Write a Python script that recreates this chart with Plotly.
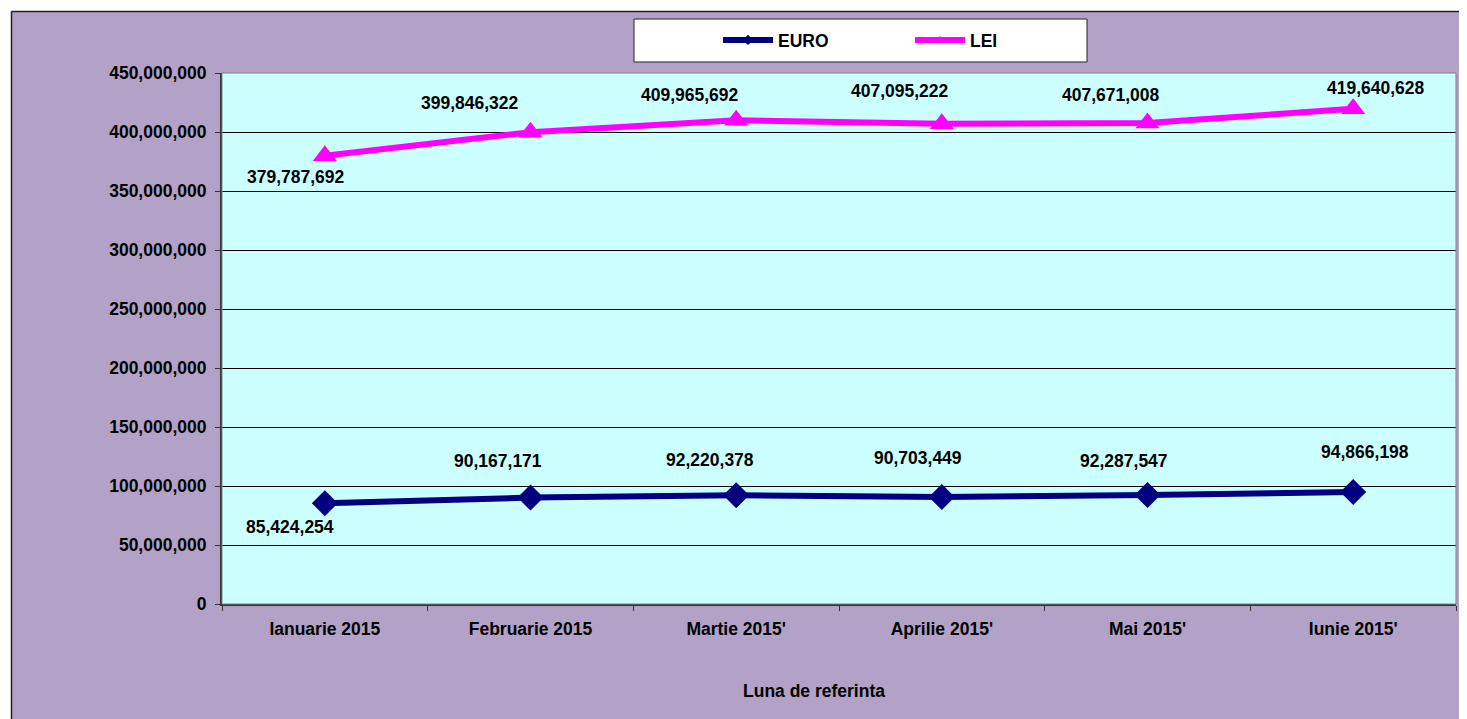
import plotly.graph_objects as go

months = ["Ianuarie 2015", "Februarie 2015", "Martie 2015'", "Aprilie 2015'", "Mai 2015'", "Iunie 2015'"]
euro = [85424254, 90167171, 92220378, 90703449, 92287547, 94866198]
lei = [379787692, 399846322, 409965692, 407095222, 407671008, 419640628]

# label offsets in pixels (dx, dy)
euro_off = [(-35, -24), (-33, 37), (-26, 35), (-24, 39), (-24, 34), (12, 40)]
lei_off = [(-29, -21), (-61, 29), (-46, 25), (-42, 33), (-37, 28), (23, 21)]

# page geometry (page has 8px body margin)
OFF = 8
PL, PT, PR, PB = 222, 73, 1456, 604   # plot area in page coords
W, H = 1467 - OFF, 719 - OFF
L, T = PL - OFF, PT - OFF
R = W - (PR - OFF)
B = H - (PB - OFF)
PW, PH = PR - PL, PB - PT

def px(x):
    return (x - PL) / PW

def py(y):
    return (PB - y) / PH

FONT = "Liberation Sans, Arial, sans-serif"
FS = 17.5
PURPLE = "#B3A2C7"
NAVY = "#000080"
MAGENTA = "#FF00FF"

fig = go.Figure()
fig.add_trace(go.Scatter(x=months, y=euro, name="EURO", mode="lines+markers", showlegend=False,
                         line=dict(color=NAVY, width=6),
                         marker=dict(symbol="diamond", size=20, color=NAVY)))
fig.add_trace(go.Scatter(x=months, y=lei, name="LEI", mode="lines+markers", showlegend=False,
                         line=dict(color=MAGENTA, width=6),
                         marker=dict(symbol="triangle-up", size=21, color=MAGENTA)))
# legend entries (small markers, as in the original legend)
fig.add_trace(go.Scatter(x=[None], y=[None], name="<b>EURO</b>", mode="lines+markers",
                         line=dict(color=NAVY, width=6),
                         marker=dict(symbol="diamond", size=8, color=NAVY)))
fig.add_trace(go.Scatter(x=[None], y=[None], name="<b>LEI</b>", mode="lines+markers",
                         line=dict(color=MAGENTA, width=6),
                         marker=dict(symbol="triangle-up", size=8, color=MAGENTA)))

ann = []
for vals, offs in ((euro, euro_off), (lei, lei_off)):
    for m, v, (dx, dy) in zip(months, vals, offs):
        ann.append(dict(x=m, y=v, text=f"<b>{v:,}</b>", showarrow=False, xshift=dx, yshift=dy,
                        font=dict(family=FONT, size=FS, color="black")))
ann.append(dict(x=px(814), y=py(691), xref="paper", yref="paper", text="<b>Luna de referinta</b>",
                xanchor="center", yanchor="middle",
                showarrow=False, font=dict(family=FONT, size=FS, color="black")))

shapes = [
    # white outer margins
    dict(type="rect", xref="paper", yref="paper", x0=px(0), x1=px(11), y0=py(730), y1=py(0),
         fillcolor="white", line=dict(width=0), layer="above"),
    dict(type="rect", xref="paper", yref="paper", x0=px(0), x1=px(1480), y0=py(11), y1=py(0),
         fillcolor="white", line=dict(width=0), layer="above"),
    dict(type="line", xref="paper", yref="paper", x0=px(11.5), x1=px(11.5), y0=py(11.5), y1=py(730),
         line=dict(color="#222222", width=1.5)),
    dict(type="line", xref="paper", yref="paper", x0=px(11.5), x1=px(1480), y0=py(11.5), y1=py(11.5),
         line=dict(color="#222222", width=1.5)),
    # legend box
    dict(type="rect", xref="paper", yref="paper", x0=px(634), x1=px(1087), y0=py(62), y1=py(19),
         fillcolor="white", line=dict(color="#222222", width=1)),
    # plot border
    dict(type="rect", xref="paper", yref="paper", x0=0, x1=1, y0=0, y1=1,
         line=dict(color="#808080", width=1)),
]

fig.update_layout(
    width=W, height=H,
    margin=dict(l=L, r=R, t=T, b=B),
    paper_bgcolor=PURPLE, plot_bgcolor="#CCFFFF",
    font=dict(family=FONT, size=FS, color="black"),
    showlegend=True,
    legend=dict(orientation="h", x=px(718), y=py(40), xanchor="left", yanchor="middle",
                bgcolor="rgba(0,0,0,0)", entrywidth=127, entrywidthmode="pixels",
                itemwidth=50, font=dict(family=FONT, size=FS, color="black"),
                traceorder="normal"),
    annotations=ann,
    shapes=shapes,
    xaxis=dict(type="category", showgrid=False, showline=True, linecolor="#333333", linewidth=2,
               ticks="outside", tickson="boundaries", ticklen=5, tickcolor="#333333",
               tickfont=dict(family=FONT, size=FS), range=[-0.5, 5.5],
               ticklabelstandoff=8, tickprefix="<b>", ticksuffix="</b>"),
    yaxis=dict(range=[0, 450000000], dtick=50000000, tickformat=",d", showgrid=True,
               gridcolor="#000000", gridwidth=1, showline=True, linecolor="#333333", linewidth=2,
               ticks="outside", ticklen=5, tickcolor="#333333", zeroline=False,
               ticklabelstandoff=5,
               tickfont=dict(family=FONT, size=FS), tickprefix="<b>", ticksuffix="</b>"),
)

fig.write_html("out.html")
